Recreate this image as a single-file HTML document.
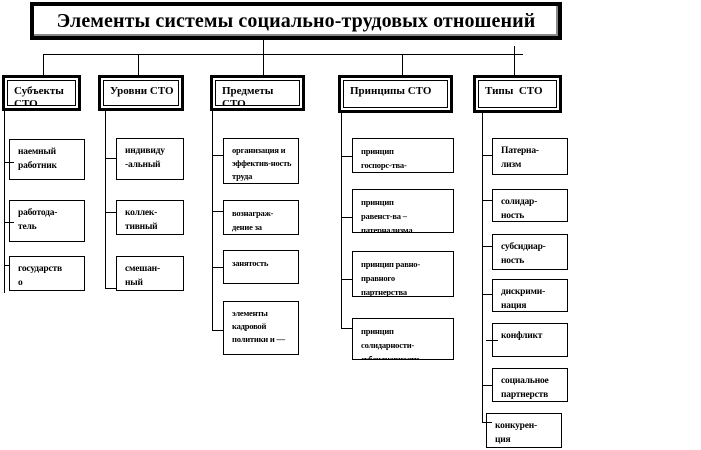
<!DOCTYPE html>
<html><head><meta charset="utf-8">
<style>
body{margin:0;width:701px;height:450px;background:#fff;position:relative;overflow:hidden;font-family:"Liberation Serif","DejaVu Serif",serif;font-weight:bold;color:#000}
.a{position:absolute;box-sizing:border-box}
.h{background:#000}
.v{background:#000}
.hd{border:3px solid #000;padding:2px}
.hd>div{border:1px solid #000;width:100%;height:100%;box-sizing:border-box;font-size:11px;line-height:13px;padding:4px 0 0 6px;overflow:hidden}
.bx{border:1px solid #000;font-size:9.5px;line-height:14px;padding:5px 0 0 8px;overflow:hidden;letter-spacing:-0.2px}
</style></head><body>
<div class="a" style="left:30px;top:2px;width:532px;height:38px;border:4px solid #000;box-shadow:inset -2px -2px 0 #888;font-size:20px;text-align:center;line-height:30px;letter-spacing:0.1px">Элементы системы социально-трудовых отношений</div>
<div class="a h" style="left:43px;top:54px;width:480px;height:1px"></div>
<div class="a v" style="left:263px;top:40px;width:1px;height:14px"></div>
<div class="a v" style="left:43px;top:54px;width:1px;height:22px"></div>
<div class="a v" style="left:138px;top:54px;width:1px;height:22px"></div>
<div class="a v" style="left:263px;top:54px;width:1px;height:22px"></div>
<div class="a v" style="left:402px;top:54px;width:1px;height:22px"></div>
<div class="a v" style="left:514px;top:46px;width:1px;height:30px"></div>

<div class="a hd" style="left:2px;top:75px;width:79px;height:36px"><div>Субъекты СТО</div></div>
<div class="a hd" style="left:98px;top:75px;width:86px;height:36px"><div>Уровни СТО</div></div>
<div class="a hd" style="left:210px;top:75px;width:95px;height:36px"><div>Предметы СТО</div></div>
<div class="a hd" style="left:338px;top:75px;width:115px;height:38px"><div>Принципы СТО</div></div>
<div class="a hd" style="left:473px;top:75px;width:89px;height:38px"><div>Типы&nbsp; СТО</div></div>

<!-- col1 -->
<div class="a v" style="left:4px;top:108px;width:1px;height:185px"></div>
<div class="a h" style="left:4px;top:162px;width:10px;height:1px"></div>
<div class="a h" style="left:4px;top:222px;width:10px;height:1px"></div>
<div class="a h" style="left:4px;top:265px;width:6px;height:1px"></div>
<div class="a bx" style="left:9px;top:139px;width:76px;height:41px">наемный работник</div>
<div class="a bx" style="left:9px;top:200px;width:76px;height:42px">работода-<br>тель</div>
<div class="a bx" style="left:9px;top:256px;width:76px;height:35px">государств<br>о</div>

<!-- col2 -->
<div class="a v" style="left:105px;top:110px;width:1px;height:178px"></div>
<div class="a h" style="left:105px;top:158px;width:11px;height:1px"></div>
<div class="a h" style="left:105px;top:212px;width:11px;height:1px"></div>
<div class="a h" style="left:105px;top:288px;width:11px;height:1px"></div>
<div class="a bx" style="left:116px;top:138px;width:68px;height:42px">индивиду<br>-альный</div>
<div class="a bx" style="left:116px;top:200px;width:68px;height:35px">коллек-<br>тивный</div>
<div class="a bx" style="left:116px;top:256px;width:68px;height:35px">смешан-<br>ный</div>

<!-- col3 -->
<div class="a v" style="left:212px;top:110px;width:1px;height:220px"></div>
<div class="a h" style="left:212px;top:155px;width:11px;height:1px"></div>
<div class="a h" style="left:212px;top:211px;width:11px;height:1px"></div>
<div class="a h" style="left:212px;top:267px;width:11px;height:1px"></div>
<div class="a h" style="left:212px;top:330px;width:11px;height:1px"></div>
<div class="a bx" style="left:223px;top:138px;width:76px;height:46px;font-size:8.5px;line-height:13px">организация и эффектив-ность труда</div>
<div class="a bx" style="left:223px;top:200px;width:76px;height:35px;font-size:8.5px">вознаграж-<br>дение за</div>
<div class="a bx" style="left:223px;top:250px;width:76px;height:34px;font-size:8.5px">занятость</div>
<div class="a bx" style="left:223px;top:301px;width:76px;height:54px;font-size:8.5px;line-height:13px">элементы кадровой политики и —</div>

<!-- col4 -->
<div class="a v" style="left:341px;top:112px;width:1px;height:216px"></div>
<div class="a h" style="left:341px;top:156px;width:11px;height:1px"></div>
<div class="a h" style="left:341px;top:217px;width:11px;height:1px"></div>
<div class="a h" style="left:341px;top:279px;width:11px;height:1px"></div>
<div class="a h" style="left:341px;top:328px;width:11px;height:1px"></div>
<div class="a bx" style="left:352px;top:138px;width:102px;height:35px;font-size:8.5px">принцип<br>госпорс-тва-</div>
<div class="a bx" style="left:352px;top:189px;width:102px;height:44px;font-size:8.5px">принцип<br>равенст-ва –<br>патернализма</div>
<div class="a bx" style="left:352px;top:251px;width:102px;height:46px;font-size:8.5px">принцип равно-<br>правного<br>партнерства</div>
<div class="a bx" style="left:352px;top:318px;width:102px;height:42px;font-size:8.5px">принцип<br>солидарности-<br>субсидиарности</div>

<!-- col5 -->
<div class="a v" style="left:482px;top:113px;width:1px;height:310px"></div>
<div class="a h" style="left:482px;top:155px;width:10px;height:1px"></div>
<div class="a h" style="left:482px;top:200px;width:10px;height:1px"></div>
<div class="a h" style="left:482px;top:246px;width:10px;height:1px"></div>
<div class="a h" style="left:482px;top:294px;width:10px;height:1px"></div>
<div class="a h" style="left:486px;top:340px;width:12px;height:1px"></div>
<div class="a h" style="left:482px;top:385px;width:10px;height:1px"></div>
<div class="a h" style="left:482px;top:422px;width:10px;height:1px"></div>
<div class="a bx" style="left:492px;top:138px;width:76px;height:37px">Патерна-<br>лизм</div>
<div class="a bx" style="left:492px;top:189px;width:76px;height:33px">солидар-<br>ность</div>
<div class="a bx" style="left:492px;top:234px;width:76px;height:36px">субсидиар-<br>ность</div>
<div class="a bx" style="left:492px;top:279px;width:76px;height:33px">дискрими-<br>нация</div>
<div class="a bx" style="left:492px;top:323px;width:76px;height:34px">конфликт</div>
<div class="a bx" style="left:492px;top:368px;width:76px;height:34px">социальное партнерств</div>
<div class="a bx" style="left:486px;top:413px;width:76px;height:35px">конкурен-<br>ция</div>
</body></html>
